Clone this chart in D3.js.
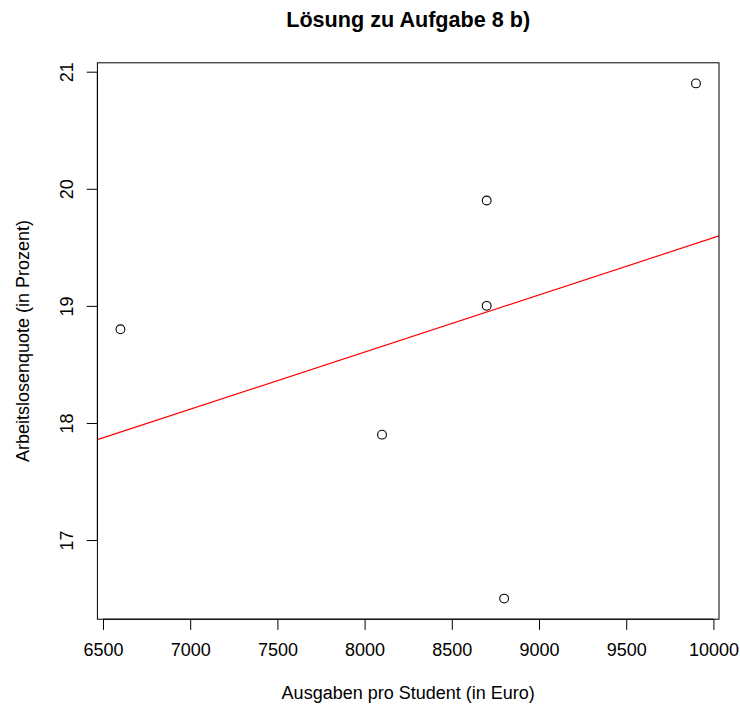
<!DOCTYPE html>
<html>
<head>
<meta charset="utf-8">
<script src="https://cdn.jsdelivr.net/npm/d3@7"></script>
<style>
  body { margin: 0; background: #fff; }
  text { font-family: "Liberation Sans", Arial, sans-serif; fill: #000; }
</style>
</head>
<body>
<div id="chart"></div>
<script>
// Ausgaben pro Student vs. Arbeitslosenquote
const ausgaben = [6600, 8100, 8700, 8700, 8800, 9900];
const quote = [18.8, 17.9, 19.9, 19.0, 16.5, 20.9];
const xTicks = [6500, 7000, 7500, 8000, 8500, 9000, 9500, 10000];
const yTicks = [17, 18, 19, 20, 21];

const width = 740;
const height = 709;
const plot = { left: 97.4, right: 719, top: 62.8, bottom: 619.2 };

const svg = d3.select("#chart")
    .append("svg")
    .attr("width", width)
    .attr("height", height);

// R style 4% range extension
function extend(arr) {
    const [lo, hi] = d3.extent(arr);
    const pad = (hi - lo) * 0.04;
    return [lo - pad, hi + pad];
}

const x = d3.scaleLinear().domain(extend(ausgaben)).range([plot.left, plot.right]);
const y = d3.scaleLinear().domain(extend(quote)).range([plot.bottom, plot.top]);

// least squares fit for the red line
const mx = d3.mean(ausgaben), my = d3.mean(quote);
const sxy = d3.sum(ausgaben, (d, i) => (d - mx) * (quote[i] - my));
const sxx = d3.sum(ausgaben, d => (d - mx) * (d - mx));
const slope = sxy / sxx;
const intercept = my - slope * mx;

const clip = svg.append("clipPath").attr("id", "clip")
    .append("rect")
    .attr("x", plot.left).attr("y", plot.top)
    .attr("width", plot.right - plot.left).attr("height", plot.bottom - plot.top);

svg.append("line")
    .attr("clip-path", "url(#clip)")
    .attr("x1", x(x.domain()[0])).attr("y1", y(intercept + slope * x.domain()[0]))
    .attr("x2", x(x.domain()[1])).attr("y2", y(intercept + slope * x.domain()[1]))
    .attr("stroke", "#ff0000")
    .attr("stroke-width", 1.2);

// box
svg.append("rect")
    .attr("x", plot.left).attr("y", plot.top)
    .attr("width", plot.right - plot.left).attr("height", plot.bottom - plot.top)
    .attr("fill", "none")
    .attr("stroke", "#000")
    .attr("stroke-width", 1);

// axes
const xAxis = d3.axisBottom(x).tickValues(xTicks).tickSize(10.7).tickPadding(13).tickFormat(d3.format("d"));
const gx = svg.append("g").attr("transform", `translate(0,${plot.bottom})`).call(xAxis);
gx.select(".domain").attr("d", `M${x(xTicks[0])},0H${x(xTicks[xTicks.length - 1])}`);

const yAxis = d3.axisLeft(y).tickValues(yTicks).tickSize(10.7).tickFormat(d3.format("d"));
const gy = svg.append("g").attr("transform", `translate(${plot.left},0)`).call(yAxis);
gy.select(".domain").attr("d", `M0,${y(yTicks[0])}V${y(yTicks[yTicks.length - 1])}`);
gy.selectAll(".tick text")
    .attr("x", 0).attr("dy", null)
    .attr("transform", "translate(-30,0) rotate(-90)")
    .attr("text-anchor", "middle")
    .attr("dominant-baseline", "central");

svg.selectAll(".tick text").style("font-size", "18px").style("font-family", "'Liberation Sans', Arial, sans-serif");
svg.selectAll(".tick line, .domain").attr("stroke", "#000");

// points
svg.selectAll("circle.pt")
    .data(ausgaben)
    .enter()
    .append("circle")
    .attr("class", "pt")
    .attr("cx", d => x(d))
    .attr("cy", (d, i) => y(quote[i]))
    .attr("r", 4.4)
    .attr("fill", "none")
    .attr("stroke", "#000")
    .attr("stroke-width", 1.1);

// labels
svg.append("text")
    .attr("x", (plot.left + plot.right) / 2).attr("y", 27)
    .attr("text-anchor", "middle")
    .style("font-size", "21.6px").style("font-weight", "bold")
    .text("Lösung zu Aufgabe 8 b)");

svg.append("text")
    .attr("x", (plot.left + plot.right) / 2).attr("y", 699)
    .attr("text-anchor", "middle")
    .style("font-size", "18px")
    .text("Ausgaben pro Student (in Euro)");

svg.append("text")
    .attr("transform", `translate(29,${(plot.top + plot.bottom) / 2}) rotate(-90)`)
    .attr("text-anchor", "middle")
    .style("font-size", "18px")
    .text("Arbeitslosenquote (in Prozent)");
</script>
</body>
</html>
